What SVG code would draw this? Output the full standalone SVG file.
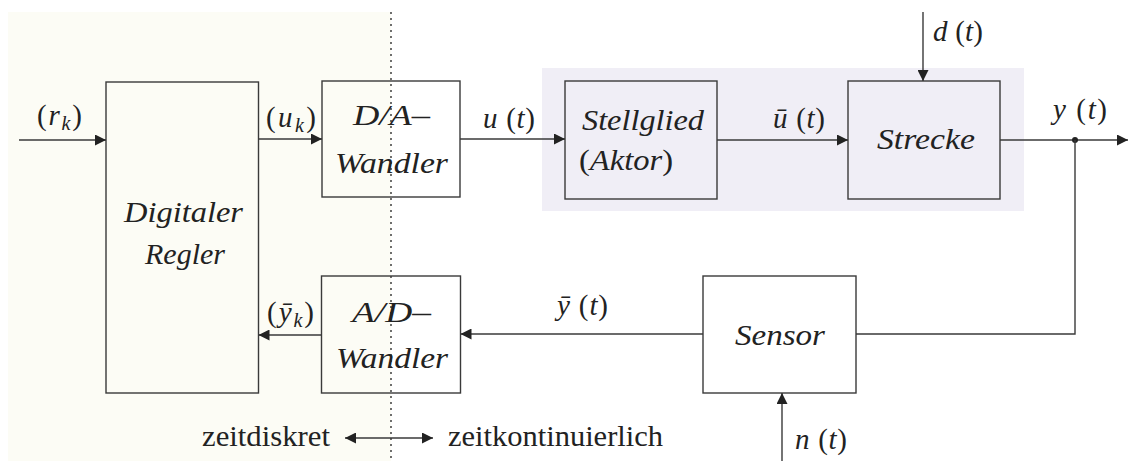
<svg xmlns="http://www.w3.org/2000/svg" width="1129" height="461" viewBox="0 0 1129 461">
<style>
.box{fill:none;stroke:#3a3a3a;stroke-width:1.4}
.ln{fill:none;stroke:#3a3a3a;stroke-width:1.4}
.t{font-family:"Liberation Serif",serif;font-size:29px;fill:#222}
.i{font-style:italic}
.s{font-size:20px;font-style:italic}
</style>
<defs>
<marker id="ah" viewBox="0 0 10 10" refX="10" refY="5" markerWidth="11" markerHeight="11" markerUnits="userSpaceOnUse" orient="auto-start-reverse">
<path d="M0,0 L10,5 L0,10 z" fill="#222"/>
</marker>
</defs>
<rect x="8" y="12" width="383" height="449" fill="#fcfcf5"/>
<rect x="542" y="68" width="482" height="143" fill="#f0eef6"/>
<line x1="391" y1="12" x2="391" y2="461" stroke="#222" stroke-width="1.3" stroke-dasharray="2,4"/>

<g id="regler">
<rect class="box" x="106" y="82" width="152.5" height="311"/>
<text class="t i" x="183.5" y="222" text-anchor="middle" textLength="119" lengthAdjust="spacingAndGlyphs">Digitaler</text>
<text class="t i" x="185" y="264" text-anchor="middle" textLength="80" lengthAdjust="spacingAndGlyphs">Regler</text>
</g>
<g id="da">
<rect class="box" x="322" y="81" width="138" height="116"/>
<text class="t i" x="391.5" y="125" text-anchor="middle" textLength="77" lengthAdjust="spacingAndGlyphs">D/A–</text>
<text class="t i" x="391.5" y="173" text-anchor="middle" textLength="113" lengthAdjust="spacingAndGlyphs">Wandler</text>
</g>
<g id="ad">
<rect class="box" x="321.5" y="276" width="139" height="117"/>
<text class="t i" x="391.5" y="322" text-anchor="middle" textLength="79" lengthAdjust="spacingAndGlyphs">A/D–</text>
<text class="t i" x="392" y="368" text-anchor="middle" textLength="112" lengthAdjust="spacingAndGlyphs">Wandler</text>
</g>
<g id="stellglied">
<rect class="box" x="565" y="81" width="152" height="118"/>
<text class="t i" x="643" y="130" text-anchor="middle" textLength="122" lengthAdjust="spacingAndGlyphs">Stellglied</text>
<text class="t" x="626" y="170" text-anchor="middle" textLength="94" lengthAdjust="spacingAndGlyphs">(<tspan class="i">Aktor</tspan>)</text>
</g>
<g id="strecke">
<rect class="box" x="848" y="81" width="152" height="118"/>
<text class="t i" x="926" y="149" text-anchor="middle" textLength="98" lengthAdjust="spacingAndGlyphs">Strecke</text>
</g>
<g id="sensor">
<rect class="box" x="703" y="276" width="153" height="117"/>
<text class="t i" x="780" y="345" text-anchor="middle" textLength="90" lengthAdjust="spacingAndGlyphs">Sensor</text>
</g>

<g id="connectors">
<line class="ln" x1="19" y1="140" x2="106" y2="140" marker-end="url(#ah)"/>
<line class="ln" x1="258.5" y1="139" x2="322" y2="139" marker-end="url(#ah)"/>
<line class="ln" x1="460" y1="139" x2="565" y2="139" marker-end="url(#ah)"/>
<line class="ln" x1="717" y1="140" x2="848" y2="140" marker-end="url(#ah)"/>
<line class="ln" x1="923" y1="12" x2="923" y2="81" marker-end="url(#ah)"/>
<line class="ln" x1="1000" y1="140" x2="1128" y2="140" marker-end="url(#ah)"/>
<circle cx="1075" cy="140" r="3" fill="#222"/>
<polyline class="ln" points="1075,140 1075,334 856,334"/>
<line class="ln" x1="703" y1="334" x2="460.5" y2="334" marker-end="url(#ah)"/>
<line class="ln" x1="321.5" y1="335" x2="258.5" y2="335" marker-end="url(#ah)"/>
<line class="ln" x1="782" y1="461" x2="782" y2="393" marker-end="url(#ah)"/>
<line class="ln" x1="345" y1="438" x2="433" y2="438" marker-start="url(#ah)" marker-end="url(#ah)"/>
</g>

<g id="labels">
<text class="t" x="37" y="125" textLength="45" lengthAdjust="spacing">(<tspan class="i">r</tspan><tspan class="s" dy="5">k</tspan><tspan dy="-5">)</tspan></text>
<text class="t" x="266" y="127" textLength="50" lengthAdjust="spacing">(<tspan class="i">u</tspan><tspan class="s" dy="5">k</tspan><tspan dy="-5">)</tspan></text>
<text class="t" x="267" y="322" textLength="47" lengthAdjust="spacing">(<tspan class="i">ȳ</tspan><tspan class="s" dy="5">k</tspan><tspan dy="-5">)</tspan></text>
<text class="t" x="483" y="128" textLength="52" lengthAdjust="spacing"><tspan class="i">u</tspan> (<tspan class="i">t</tspan>)</text>
<text class="t" x="773" y="128" textLength="52" lengthAdjust="spacing"><tspan class="i">ū</tspan> (<tspan class="i">t</tspan>)</text>
<text class="t" x="933" y="41" textLength="50" lengthAdjust="spacing"><tspan class="i">d</tspan> (<tspan class="i">t</tspan>)</text>
<text class="t" x="1053" y="119" textLength="54" lengthAdjust="spacing"><tspan class="i">y</tspan> (<tspan class="i">t</tspan>)</text>
<text class="t" x="557" y="315" textLength="51" lengthAdjust="spacing"><tspan class="i">ȳ</tspan> (<tspan class="i">t</tspan>)</text>
<text class="t" x="795" y="449" textLength="52" lengthAdjust="spacing"><tspan class="i">n</tspan> (<tspan class="i">t</tspan>)</text>
<text class="t" x="202" y="446" textLength="128" lengthAdjust="spacingAndGlyphs">zeitdiskret</text>
<text class="t" x="448" y="446" textLength="215" lengthAdjust="spacingAndGlyphs">zeitkontinuierlich</text>
</g>
</svg>
